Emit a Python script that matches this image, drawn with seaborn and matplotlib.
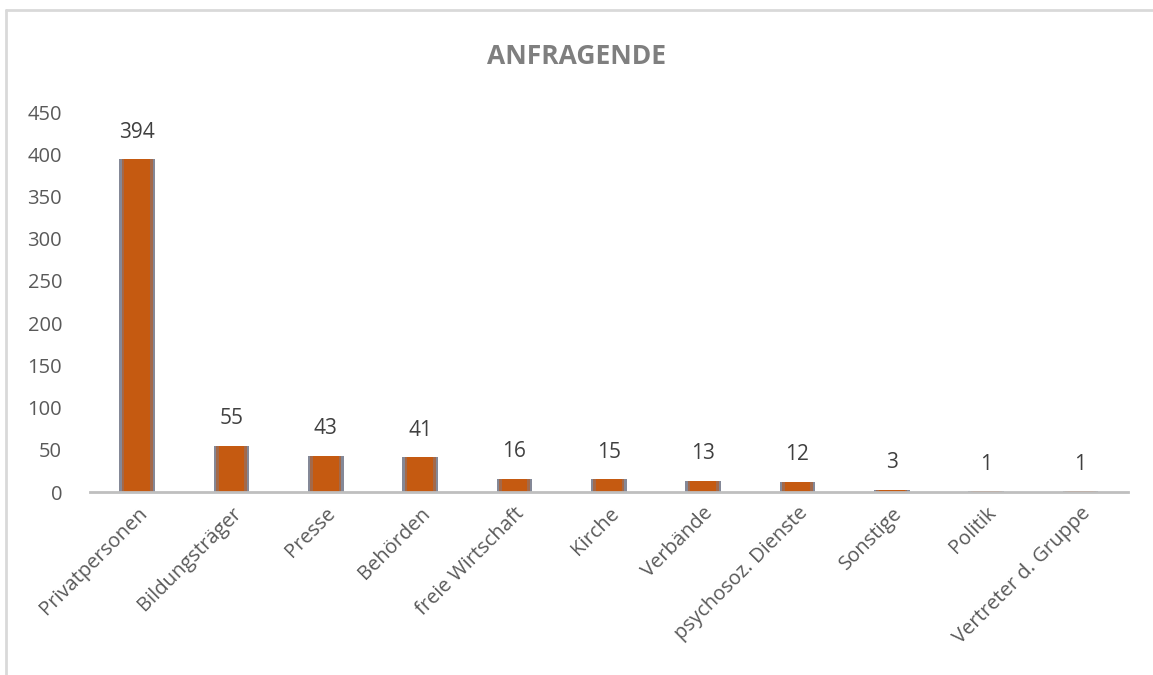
import matplotlib
matplotlib.use("Agg")
import matplotlib.pyplot as plt
import seaborn as sns
import pandas as pd
from matplotlib.lines import Line2D

categories = ["Privatpersonen", "Bildungsträger", "Presse", "Behörden", "freie Wirtschaft",
              "Kirche", "Verbände", "psychosoz. Dienste", "Sonstige", "Politik", "Vertreter d. Gruppe"]
values = [394, 55, 43, 41, 16, 15, 13, 12, 3, 1, 1]
yticks = [0, 50, 100, 150, 200, 250, 300, 350, 400, 450]
title = "ANFRAGENDE"

df = pd.DataFrame({"cat": categories, "val": values})

sns.set_theme(style="white")
plt.rcParams["font.family"] = ["Open Sans", "DejaVu Sans"]

fig = plt.figure(figsize=(11.53, 6.75), dpi=100)
ax = fig.add_axes([0.078, 0.271, 0.9, 0.563])

# outer layer (grey-blue edge) and inner layers to mimic the gradient fill
sns.barplot(data=df, x="cat", y="val", ax=ax, width=0.38, color="#848897",
            saturation=1, edgecolor="none")
sns.barplot(data=df, x="cat", y="val", ax=ax, width=0.33, color="#A3694A",
            saturation=1, edgecolor="none")
sns.barplot(data=df, x="cat", y="val", ax=ax, width=0.27, color="#C55A11",
            saturation=1, edgecolor="none")

ax.set_ylim(0, 450)
ax.set_xlim(-0.5, len(categories) - 0.5)
ax.set_yticks(yticks)
ax.set_yticklabels([str(t) for t in yticks])
ax.set_xlabel("")
ax.set_ylabel("")

for s in ["top", "right", "left"]:
    ax.spines[s].set_visible(False)
ax.spines["bottom"].set_color("#BFBFBF")
ax.spines["bottom"].set_linewidth(2)

ax.tick_params(axis="y", length=0, pad=20, labelsize=14.5, labelcolor="#595959")
ax.tick_params(axis="x", length=0, pad=8, labelsize=14.5, labelcolor="#595959")
for lbl in ax.get_xticklabels():
    lbl.set_rotation(45)
    lbl.set_ha("right")
    lbl.set_rotation_mode("anchor")

for i, v in enumerate(values):
    ax.annotate(str(v), (i, v), xytext=(0, 12), textcoords="offset points",
                ha="center", va="bottom", fontsize=15, color="#404040")

fig.text(0.5, 0.917, title, ha="center", va="center", fontsize=19,
         fontweight="bold", color="#7F7F7F")

# chart frame (top and left edges visible in the crop)
fig.add_artist(Line2D([0.0052, 1.0], [0.985, 0.985], transform=fig.transFigure,
                      color="#D9D9D9", linewidth=2))
fig.add_artist(Line2D([0.0052, 0.0052], [0.0, 0.985], transform=fig.transFigure,
                      color="#D9D9D9", linewidth=2))

fig.savefig("out.png", dpi=100)
